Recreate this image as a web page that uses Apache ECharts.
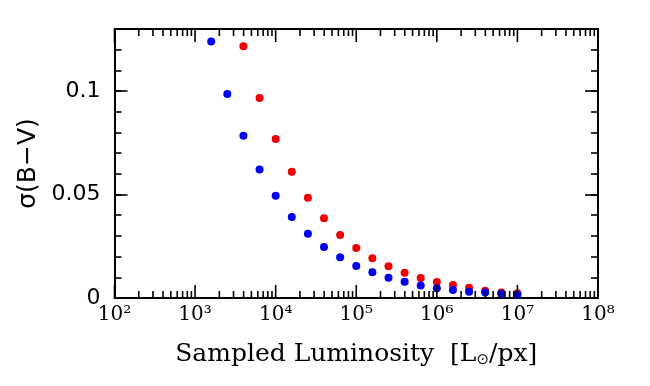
<!DOCTYPE html>
<html>
<head>
<meta charset="utf-8">
<script src="https://cdn.jsdelivr.net/npm/echarts@6/dist/echarts.min.js"></script>
<style>html,body{margin:0;padding:0;background:#fff}#c{width:650px;height:386px}</style>
</head>
<body>
<div id="c"></div>
<script>
// Sampled luminosity (L_sun/px)
var blueX = [1585, 2512, 3981, 6310, 10000, 15849, 25119, 39811, 63096, 100000, 158489, 251189, 398107, 630957, 1000000, 1584893, 2511886, 3981072, 6309573, 10000000];
var blueY = [0.124, 0.0986, 0.0784, 0.0621, 0.0494, 0.0392, 0.0311, 0.0247, 0.0197, 0.0155, 0.0124, 0.0098, 0.0079, 0.0061, 0.0047, 0.0039, 0.0030, 0.0026, 0.0020, 0.0016];
var redX = [3981, 6310, 10000, 15849, 25119, 39811, 63096, 100000, 158489, 251189, 398107, 630957, 1000000, 1584893, 2511886, 3981072, 6309573, 10000000];
var redY = [0.1217, 0.0967, 0.0768, 0.0610, 0.0484, 0.0385, 0.0305, 0.0242, 0.0192, 0.0153, 0.0122, 0.0097, 0.0077, 0.0063, 0.0050, 0.0035, 0.0027, 0.0023];
var xDecades = [100, 1000, 10000, 100000, 1000000, 10000000, 100000000];
var xTickLabels = ['10\u00B2', '10\u00B3', '10\u2074', '10\u2075', '10\u2076', '10\u2077', '10\u2078'];
var xTicks = [];
xDecades.forEach(function (d, i) {
  xTicks.push([d, 13]);
  if (i < xDecades.length - 1) for (var m = 2; m <= 9; m++) xTicks.push([d * m, 7]);
});

var XMIN = 100, XMAX = 1e8, YMIN = 0, YMAX = 0.13;

function pairs(xs, ys) { return xs.map(function (x, i) { return [x, ys[i]]; }); }
function axLine() { return { show: true, onZero: false, lineStyle: { color: '#000', width: 2 } }; }
function tMajor() { return { show: true, inside: true, length: 13, lineStyle: { color: '#000', width: 1.6 } }; }
function tMinor() { return { show: true, inside: true, length: 7, lineStyle: { color: '#000', width: 1.6 } }; }

var chart = echarts.init(document.getElementById('c'));

chart.setOption({
  animation: false,
  backgroundColor: '#fff',
  grid: { left: 114.5, right: 52, top: 29, bottom: 88, containLabel: false },
  xAxis: [
    {
      type: 'log', logBase: 10, min: XMIN, max: XMAX, position: 'bottom', splitNumber: 6,
      axisLine: axLine(),
      axisTick: { show: false },
      splitLine: { show: false },
      axisLabel: {
        margin: 7, color: '#000', fontFamily: 'DejaVu Serif', fontSize: 20,
        formatter: function (v) {
          var i = xDecades.indexOf(Math.round(v));
          return i >= 0 ? xTickLabels[i] : '';
        }
      },
      name: 'Sampled Luminosity  [L{sub|\u2299}/px]',
      nameLocation: 'middle', nameGap: 42,
      nameTextStyle: {
        color: '#000', fontFamily: 'DejaVu Serif', fontSize: 25,
        rich: { sub: { fontFamily: 'DejaVu Sans', fontSize: 15, padding: [13, 0, 0, 0], color: '#000' } }
      }
    },
    {
      type: 'log', logBase: 10, min: XMIN, max: XMAX, position: 'top', splitNumber: 6,
      axisLine: axLine(),
      axisTick: { show: false },
      splitLine: { show: false },
      axisLabel: { show: false }
    }
  ],
  yAxis: [
    {
      type: 'value', min: YMIN, max: YMAX, interval: 0.05, position: 'left',
      axisLine: axLine(),
      axisTick: tMajor(),
      splitLine: { show: false },
      axisLabel: { margin: 14, color: '#000', fontFamily: 'DejaVu Sans', fontSize: 22, showMaxLabel: false,
        formatter: function (v) { return Math.abs(v - 0.13) < 1e-6 ? '' : String(+v.toFixed(2)); } },
      name: '\u03C3(B\u2212V)', nameLocation: 'middle', nameGap: 72, nameRotate: 90,
      nameTextStyle: { color: '#000', fontFamily: 'DejaVu Sans', fontSize: 25 }
    },
    {
      type: 'value', min: YMIN, max: YMAX, interval: 0.01, position: 'left',
      axisLine: { show: false, onZero: false }, axisTick: tMinor(), splitLine: { show: false }, axisLabel: { show: false }
    },
    {
      type: 'value', min: YMIN, max: YMAX, interval: 0.05, position: 'right',
      axisLine: axLine(), axisTick: tMajor(), splitLine: { show: false }, axisLabel: { show: false }
    },
    {
      type: 'value', min: YMIN, max: YMAX, interval: 0.01, position: 'right',
      axisLine: { show: false, onZero: false }, axisTick: tMinor(), splitLine: { show: false }, axisLabel: { show: false }
    }
  ],
  series: [
    {
      type: 'custom', xAxisIndex: 0, yAxisIndex: 0, silent: true, z: 5, clip: false,
      data: xTicks,
      renderItem: function (params, api) {
        var v = api.value(0);
        var len = api.value(1);
        var pb = api.coord([v, YMIN]);
        var pt = api.coord([v, YMAX]);
        var st = { stroke: '#000', lineWidth: 1.6 };
        return { type: 'group', children: [
          { type: 'line', shape: { x1: pb[0], y1: pb[1], x2: pb[0], y2: pb[1] - len }, style: st },
          { type: 'line', shape: { x1: pt[0], y1: pt[1], x2: pt[0], y2: pt[1] + len }, style: st }
        ] };
      }
    },
    {
      name: 'red', type: 'scatter', xAxisIndex: 0, yAxisIndex: 0, symbol: 'circle', symbolSize: 8,
      itemStyle: { color: '#f00000', opacity: 1 }, data: pairs(redX, redY), z: 3
    },
    {
      name: 'blue', type: 'scatter', xAxisIndex: 0, yAxisIndex: 0, symbol: 'circle', symbolSize: 8,
      itemStyle: { color: '#0000f0', opacity: 1 }, data: pairs(blueX, blueY), z: 4
    }
  ]
});
</script>
</body>
</html>
